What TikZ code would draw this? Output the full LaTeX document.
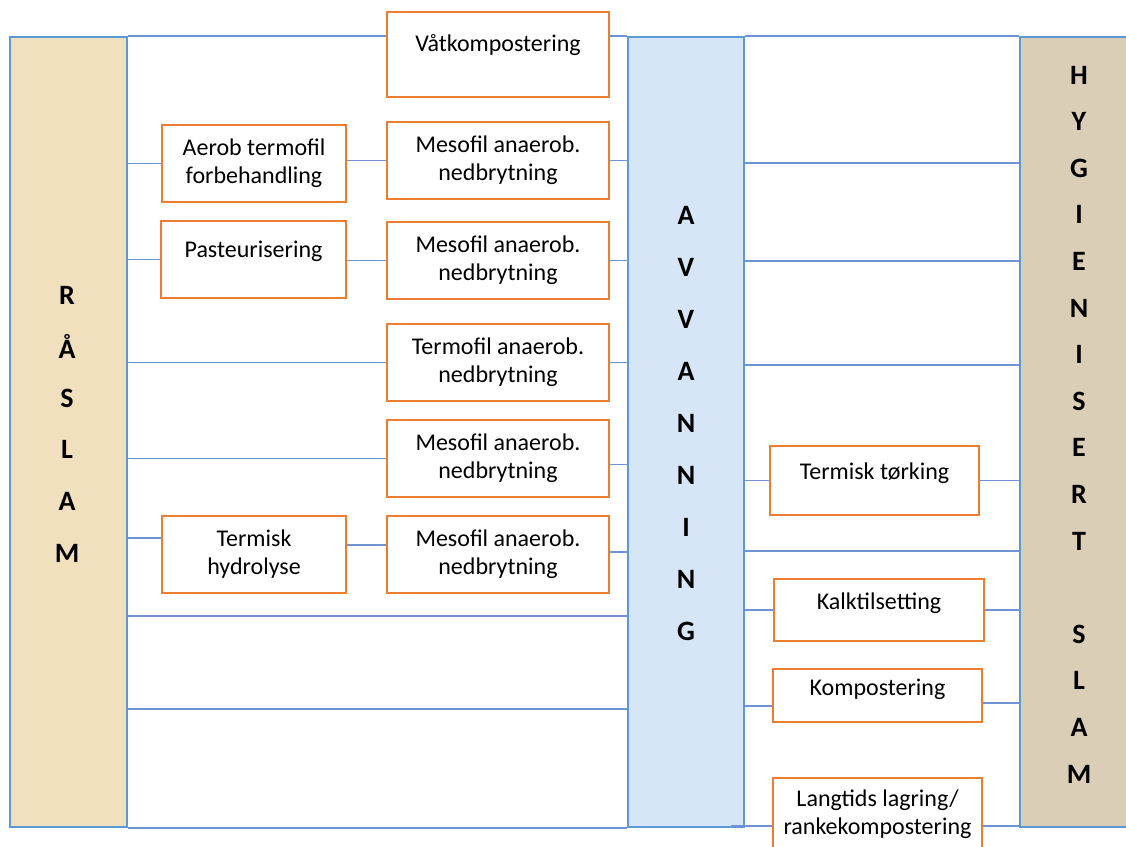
\documentclass[tikz,border=0pt]{standalone}
\usepackage{fontspec}
\setmainfont{Carlito}
\usetikzlibrary{calc}

\definecolor{boxorange}{RGB}{237,125,49}
\definecolor{barblue}{RGB}{91,155,213}
\definecolor{linkblue}{RGB}{110,148,212}
\definecolor{sandfill}{RGB}{240,224,190}
\definecolor{waterfill}{RGB}{214,230,246}
\definecolor{linenfill}{RGB}{218,206,183}

\newcommand{\px}{0.75pt}

\begin{document}
\begin{tikzpicture}[x=0.75pt,y=-0.75pt,
    box/.style={draw=boxorange,line width=1.8pt,fill=white,align=center,
      inner sep=0pt,font=\fontsize{18}{21}\selectfont},
    bar/.style={draw=barblue,line width=1.5pt,inner sep=0pt,
      minimum height=790*\px},
    letter/.style={font=\fontsize{21}{24}\selectfont\bfseries},
    link/.style={draw=linkblue,line width=1pt}]
    \useasboundingbox (0,0) rectangle (1126,846);

    % the three columns
    \node[bar,fill=sandfill,minimum width=117*\px] (raa) at (68.5,432) {};
    \node[bar,fill=waterfill,minimum width=116*\px] (avv) at (686,432) {};
    \node[bar,fill=linenfill,minimum width=112*\px] (hyg) at (1076,432) {};

    \foreach \l [count=\i] in {R,Å,S,L,A,M}
      \node[letter] at (67,{295+51.6*(\i-1)}) {\l};
    \foreach \l [count=\i] in {A,V,V,A,N,N,I,N,G}
      \node[letter] at (686,{215+52.1*(\i-1)}) {\l};
    \foreach \l [count=\i] in {H,Y,G,I,E,N,I,S,E,R,T,{},S,L,A,M}
      \node[letter] at (1079,{75+46.6*(\i-1)}) {\l};

    % treatment before dewatering
    \node[box,minimum width=222*\px,minimum height=85*\px,text depth=17.5pt]
      (vaat) at (498,54.5) {Våtkompostering};
    \node[box,minimum width=184*\px,minimum height=77*\px]
      (aerob) at (254,163.5) {Aerob termofil\\forbehandling};
    \node[box,minimum width=222*\px,minimum height=77*\px]
      (meso1) at (498,160.5) {Mesofil anaerob.\\nedbrytning};
    \node[box,minimum width=185*\px,minimum height=77*\px,text depth=14.7pt]
      (past) at (253.5,259.5) {Pasteurisering};
    \node[box,minimum width=222*\px,minimum height=77*\px]
      (meso2) at (498,260.5) {Mesofil anaerob.\\nedbrytning};
    \node[box,minimum width=222*\px,minimum height=77*\px]
      (termo) at (498,362.5) {Termofil anaerob.\\nedbrytning};
    \node[box,minimum width=222*\px,minimum height=77*\px]
      (meso3) at (498,458.5) {Mesofil anaerob.\\nedbrytning};
    \node[box,minimum width=184*\px,minimum height=77*\px]
      (hydro) at (254,554.5) {Termisk\\hydrolyse};
    \node[box,minimum width=222*\px,minimum height=77*\px]
      (meso4) at (498,554.5) {Mesofil anaerob.\\nedbrytning};

    % treatment after dewatering
    \node[box,minimum width=209*\px,minimum height=69*\px,text depth=14.7pt]
      (tork) at (874.5,480.5) {Termisk tørking};
    \node[box,minimum width=210*\px,minimum height=62*\px,text depth=14pt]
      (kalk) at (879,610) {Kalktilsetting};
    \node[box,minimum width=209*\px,minimum height=53*\px,text depth=11.7pt]
      (kompost) at (877.5,695.5) {Kompostering};
    \node[box,minimum width=209*\px,minimum height=72*\px]
      (lang) at (877.5,814) {Langtids lagring/\\rankekompostering};

    % links from raw sludge to dewatering
    \draw[link] (raa.north east) -- (vaat.west |- raa.north east)
      (vaat.east |- avv.north west) -- (avv.north west);
    \draw[link] (raa.east |- aerob.west) -- (aerob.west)
      (meso1.west -| aerob.east) -- (meso1.west)
      (meso1.east) -- (meso1.east -| avv.west);
    \draw[link] (raa.east |- past.west) -- (past.west)
      (meso2.west -| past.east) -- (meso2.west)
      (meso2.east) -- (meso2.east -| avv.west);
    \draw[link] (raa.east |- termo.west) -- (termo.west)
      (termo.east) -- (termo.east -| avv.west);
    \coordinate (meso3out) at ($(meso3.east)+(0,6)$);
    \draw[link] (raa.east |- meso3.west) -- (meso3.west)
      (meso3out) -- (meso3out -| avv.west);
    \coordinate (hydroin) at ($(hydro.west)+(0,-16.5)$);
    \coordinate (hydroout) at ($(hydro.east)+(0,-9.5)$);
    \coordinate (meso4out) at ($(meso4.east)+(0,-2.5)$);
    \draw[link] (raa.east |- hydroin) -- (hydroin)
      (hydroout) -- (hydroout -| meso4.west)
      (meso4out) -- (meso4out -| avv.west);
    \draw[link] (raa.east |- 0,616) -- (avv.west |- 0,616)
      (raa.east |- 0,709) -- (avv.west |- 0,709)
      (raa.south east) -- (avv.south west);

    % links from dewatering to hygienised sludge
    \draw[link] (avv.north east) -- (hyg.north west);
    \foreach \y in {163,261,365,551}
      \draw[link] (avv.east |- 0,\y) -- (hyg.west |- 0,\y);
    \draw[link] (avv.east |- tork.west) -- (tork.west)
      (tork.east) -- (tork.east -| hyg.west);
    \draw[link] (avv.east |- kalk.west) -- (kalk.west)
      (kalk.east) -- (kalk.east -| hyg.west);
    \coordinate (kompin) at ($(kompost.west)+(0,10.5)$);
    \coordinate (kompout) at ($(kompost.east)+(0,7.5)$);
    \draw[link] (avv.east |- kompin) -- (kompin)
      (kompout) -- (kompout -| hyg.west);
    \coordinate (langin) at ($(lang.west)+(0,12)$);
    \coordinate (langout) at ($(lang.east)+(0,12)$);
    \draw[link] ($(avv.east |- langin)+(-14,0)$) -- (langin)
      (langout) -- (langout -| hyg.west);
  \end{tikzpicture}
\end{document}
